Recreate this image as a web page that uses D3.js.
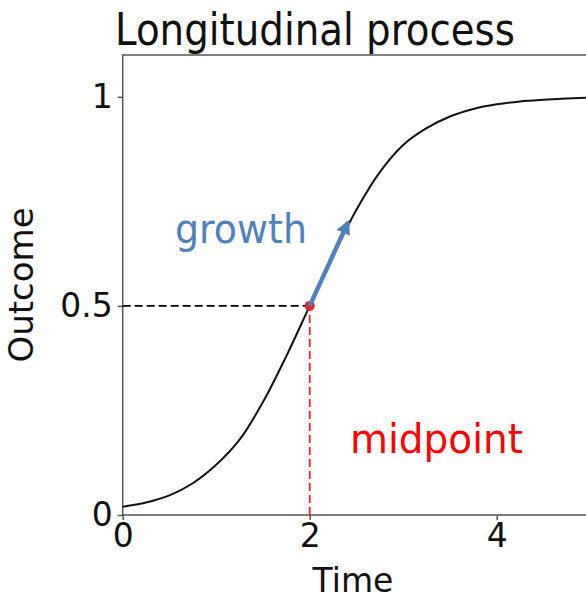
<!DOCTYPE html>
<html>
<head>
<meta charset="utf-8">
<script src="https://cdn.jsdelivr.net/npm/d3@7"></script>
<style>
  body { margin: 0; background: #fff; }
  svg { display: block; }
  text { font-family: "DejaVu Sans", sans-serif; }
</style>
</head>
<body>
<svg id="chart" width="586" height="600"></svg>
<script>
// values
var times    = [0, 0.25, 0.5, 0.75, 1, 1.25, 1.5, 1.75, 2, 2.25, 2.5, 2.75, 3, 3.25, 3.5, 3.75, 4, 4.25, 4.5, 4.75, 5, 5.25, 5.5];
var outcomes = [0.02, 0.03, 0.047, 0.076, 0.12, 0.18, 0.27, 0.38, 0.5, 0.62, 0.73, 0.82, 0.885, 0.925, 0.953, 0.971, 0.982, 0.989, 0.993, 0.996, 0.998, 0.999, 0.999];
var xTicks = [0, 2, 4];
var yTicks = [0, 0.5, 1];
var midpoint = [2, 0.5];
var growthEnd = [2.41, 0.70];

var svg = d3.select("#chart");
var plotLeft = 122.7, plotBottom = 515, plotTop = 55;

var x = d3.scaleLinear().domain([0, 5.5]).range([plotLeft, plotLeft + 5.5 * 93.5]);
var y = d3.scaleLinear().domain([0, 1.1]).range([plotBottom, plotTop]);

// frame
svg.append("rect")
    .attr("x", x(0)).attr("y", y(1.1))
    .attr("width", x(5.5) - x(0)).attr("height", y(0) - y(1.1))
    .attr("fill", "none").attr("stroke", "#555").attr("stroke-width", 1.5);

var xAxis = svg.append("g")
    .attr("transform", "translate(0," + plotBottom + ")")
    .call(d3.axisBottom(x).tickValues(xTicks).tickFormat(d3.format("d")).tickSize(5).tickPadding(4));
var yAxis = svg.append("g")
    .attr("transform", "translate(" + plotLeft + ",0)")
    .call(d3.axisLeft(y).tickValues(yTicks).tickFormat(function(d){ return d === 0.5 ? "0.5" : d; }).tickSize(5).tickPadding(5));

[xAxis, yAxis].forEach(function(a){
    a.attr("font-size", 33).attr("font-family", "DejaVu Sans");
    a.select(".domain").remove();
    a.selectAll(".tick line").attr("stroke", "#555").attr("stroke-width", 1.5);
    a.selectAll(".tick text").attr("fill", "#111");
});

// guide lines to the midpoint
svg.append("line")
    .attr("x1", x(0)).attr("x2", x(midpoint[0]))
    .attr("y1", y(midpoint[1])).attr("y2", y(midpoint[1]))
    .attr("stroke", "#000").attr("stroke-width", 1.8).attr("stroke-dasharray", "8,4");
svg.append("line")
    .attr("x1", x(midpoint[0])).attr("x2", x(midpoint[0]))
    .attr("y1", y(0)).attr("y2", y(midpoint[1]))
    .attr("stroke", "#e3242b").attr("stroke-width", 1.8).attr("stroke-dasharray", "8,4");

// the curve
var line = d3.line()
    .x(function(d, i){ return x(times[i]); })
    .y(function(d){ return y(d); })
    .curve(d3.curveCatmullRom);
svg.append("path")
    .datum(outcomes)
    .attr("d", line)
    .attr("fill", "none").attr("stroke", "#111").attr("stroke-width", 2);

svg.append("circle")
    .attr("cx", x(midpoint[0])).attr("cy", y(midpoint[1])).attr("r", 5)
    .attr("fill", "#e3242b");

// growth arrow
svg.append("defs").append("marker")
    .attr("id", "head").attr("viewBox", "0 0 10 10")
    .attr("refX", 8).attr("refY", 5)
    .attr("markerWidth", 3.2).attr("markerHeight", 3.2)
    .attr("markerUnits", "strokeWidth").attr("orient", "auto")
  .append("path").attr("d", "M0,0 L10,5 L0,10 Z").attr("fill", "#4f81bd");
svg.append("line")
    .attr("x1", x(midpoint[0])).attr("y1", y(midpoint[1]))
    .attr("x2", x(growthEnd[0])).attr("y2", y(growthEnd[1]))
    .attr("stroke", "#4f81bd").attr("stroke-width", 4.5)
    .attr("marker-end", "url(#head)");

// texts
svg.append("text").text("Longitudinal process")
    .attr("x", 115).attr("y", 45).attr("font-size", 44)
    .attr("textLength", 400).attr("lengthAdjust", "spacingAndGlyphs")
    .attr("fill", "#111");
svg.append("text").text("Time")
    .attr("x", 353).attr("y", 592).attr("text-anchor", "middle")
    .attr("font-size", 33).attr("fill", "#111");
svg.append("text").text("Outcome")
    .attr("transform", "translate(33,285) rotate(-90)")
    .attr("text-anchor", "middle").attr("font-size", 34).attr("fill", "#111");
svg.append("text").text("growth")
    .attr("x", 175).attr("y", 243)
    .attr("font-family", "Lato").attr("font-size", 40)
    .attr("textLength", 132).attr("lengthAdjust", "spacingAndGlyphs")
    .attr("fill", "#4f81bd");
svg.append("text").text("midpoint")
    .attr("x", 350).attr("y", 453)
    .attr("font-family", "Lato").attr("font-size", 40)
    .attr("textLength", 173).attr("lengthAdjust", "spacingAndGlyphs")
    .attr("fill", "#ff0000");
</script>
</body>
</html>
